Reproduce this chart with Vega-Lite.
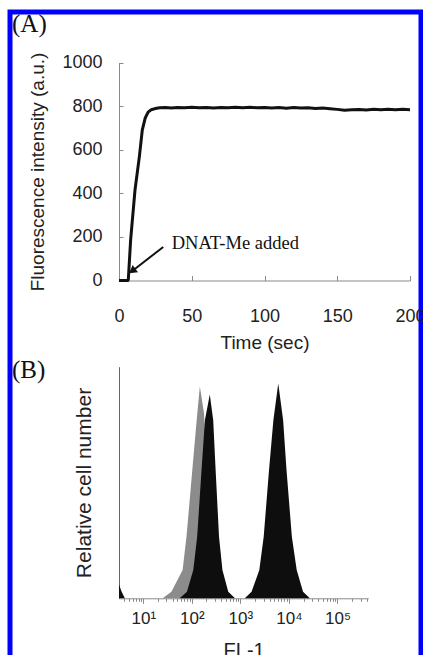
{
  "$schema": "https://vega.github.io/schema/vega-lite/v6.json",
  "autosize": {"type": "none"},
  "width": 411,
  "height": 720,
  "padding": {"left": 10, "top": 12, "right": 2, "bottom": 0},
  "background": "white",
  "title": {
    "text": "(A)", "subtitle": "(B)", "anchor": "start", "frame": "group", "orient": "top",
    "font": "Liberation Serif", "fontSize": 25, "fontWeight": "normal", "color": "#111",
    "subtitleFont": "Liberation Serif", "subtitleFontSize": 25, "subtitleColor": "#111",
    "subtitlePadding": 321, "offset": -371, "dx": 2
  },
  "config": {
    "view": {"stroke": "#0000ff", "strokeWidth": 5, "fill": "white"},
    "axis": {
      "grid": false, "labelFont": "Liberation Sans", "titleFont": "Liberation Sans",
      "titleFontWeight": "normal", "labelColor": "#222", "titleColor": "#222",
      "domainColor": "#8a8a8a", "tickColor": "#8a8a8a"
    }
  },
  "datasets": {
    "kinetics": [
      {"t": 0, "f": 0}, {"t": 3, "f": 0}, {"t": 6, "f": 0}, {"t": 6.4, "f": 4},
      {"t": 8, "f": 186}, {"t": 11, "f": 415}, {"t": 14, "f": 568}, {"t": 16, "f": 690},
      {"t": 18, "f": 745}, {"t": 20, "f": 772}, {"t": 22, "f": 783}, {"t": 25, "f": 789},
      {"t": 28, "f": 792}, {"t": 32, "f": 794}, {"t": 36, "f": 791}, {"t": 40, "f": 794},
      {"t": 45, "f": 792}, {"t": 50, "f": 795}, {"t": 55, "f": 792}, {"t": 60, "f": 794},
      {"t": 65, "f": 791}, {"t": 70, "f": 794}, {"t": 75, "f": 792}, {"t": 80, "f": 795},
      {"t": 85, "f": 793}, {"t": 90, "f": 795}, {"t": 95, "f": 792}, {"t": 100, "f": 794},
      {"t": 105, "f": 791}, {"t": 110, "f": 793}, {"t": 115, "f": 790}, {"t": 120, "f": 793},
      {"t": 125, "f": 791}, {"t": 130, "f": 792}, {"t": 135, "f": 789}, {"t": 140, "f": 791},
      {"t": 145, "f": 788}, {"t": 150, "f": 785}, {"t": 155, "f": 781}, {"t": 160, "f": 783},
      {"t": 165, "f": 784}, {"t": 170, "f": 782}, {"t": 175, "f": 785}, {"t": 180, "f": 783},
      {"t": 185, "f": 785}, {"t": 190, "f": 783}, {"t": 195, "f": 785}, {"t": 200, "f": 783}
    ],
    "arrow": [{"t": 30.4, "f": 154, "t2": 9.8, "f2": 47}],
    "arrowhead": [{"t": 9.8, "f": 47}],
    "note": [{"t": 36.2, "f": 143, "label": "DNAT-Me added"}],
    "flow": [
      {"fl": 25.1, "count": 0, "sample": "Control"},
      {"fl": 38.0, "count": 2.8, "sample": "Control"},
      {"fl": 64.6, "count": 12.2, "sample": "Control"},
      {"fl": 77.6, "count": 26.6, "sample": "Control"},
      {"fl": 102.3, "count": 55.4, "sample": "Control"},
      {"fl": 125.9, "count": 77, "sample": "Control"},
      {"fl": 146.2, "count": 91.4, "sample": "Control"},
      {"fl": 177.8, "count": 80, "sample": "Control"},
      {"fl": 208.9, "count": 55, "sample": "Control"},
      {"fl": 239.9, "count": 30, "sample": "Control"},
      {"fl": 281.8, "count": 12, "sample": "Control"},
      {"fl": 354.8, "count": 3, "sample": "Control"},
      {"fl": 501.2, "count": 0, "sample": "Control"},
      {"fl": 3.16, "count": 6, "sample": "DNAT-Me"},
      {"fl": 3.55, "count": 3, "sample": "DNAT-Me"},
      {"fl": 4.17, "count": 0, "sample": "DNAT-Me"},
      {"fl": 56.2, "count": 0, "sample": "DNAT-Me"},
      {"fl": 79.4, "count": 2.8, "sample": "DNAT-Me"},
      {"fl": 107.2, "count": 12.2, "sample": "DNAT-Me"},
      {"fl": 128.8, "count": 26.6, "sample": "DNAT-Me"},
      {"fl": 158.5, "count": 55.4, "sample": "DNAT-Me"},
      {"fl": 186.2, "count": 77, "sample": "DNAT-Me"},
      {"fl": 234.4, "count": 88, "sample": "DNAT-Me"},
      {"fl": 275.4, "count": 77, "sample": "DNAT-Me"},
      {"fl": 309.0, "count": 55.4, "sample": "DNAT-Me"},
      {"fl": 363.1, "count": 26.6, "sample": "DNAT-Me"},
      {"fl": 426.6, "count": 12.2, "sample": "DNAT-Me"},
      {"fl": 562.3, "count": 2.8, "sample": "DNAT-Me"},
      {"fl": 776.2, "count": 0, "sample": "DNAT-Me"},
      {"fl": 1230, "count": 0, "sample": "DNAT-Me"},
      {"fl": 1698, "count": 2.8, "sample": "DNAT-Me"},
      {"fl": 2455, "count": 12.2, "sample": "DNAT-Me"},
      {"fl": 3020, "count": 26.6, "sample": "DNAT-Me"},
      {"fl": 3890, "count": 55.4, "sample": "DNAT-Me"},
      {"fl": 4786, "count": 77, "sample": "DNAT-Me"},
      {"fl": 6026, "count": 92.8, "sample": "DNAT-Me"},
      {"fl": 7586, "count": 77, "sample": "DNAT-Me"},
      {"fl": 8913, "count": 55.4, "sample": "DNAT-Me"},
      {"fl": 11482, "count": 26.6, "sample": "DNAT-Me"},
      {"fl": 14454, "count": 12.2, "sample": "DNAT-Me"},
      {"fl": 19498, "count": 2.8, "sample": "DNAT-Me"},
      {"fl": 26915, "count": 0, "sample": "DNAT-Me"}
    ]
  },
  "layer": [
    {
      "layer": [
        {
          "data": {"name": "kinetics"},
          "mark": {"type": "line", "color": "#111", "strokeWidth": 3},
          "encoding": {
            "x": {
              "field": "t", "type": "quantitative",
              "scale": {"domain": [0, 200], "range": [109, 400], "nice": false},
              "axis": {
                "title": "Time (sec)", "orient": "bottom", "offset": -451.5,
                "values": [0, 50, 100, 150, 200], "tickSize": -5, "labelPadding": 32,
                "labelFontSize": 18, "titleFontSize": 19, "titlePadding": 8, "labelFlush": false
              }
            },
            "y": {
              "field": "f", "type": "quantitative",
              "scale": {"domain": [0, 1000], "range": [268.5, 50.5], "nice": false},
              "axis": {
                "title": "Fluorescence intensity (a.u.)", "orient": "left", "offset": -109,
                "values": [0, 200, 400, 600, 800, 1000], "format": "d", "tickSize": -4, "labelPadding": 21,
                "labelFontSize": 18, "titleFontSize": 19, "titlePadding": 14, "labelFlush": false
              }
            }
          }
        },
        {
          "data": {"name": "arrow"},
          "mark": {"type": "rule", "color": "#111", "strokeWidth": 2},
          "encoding": {
            "x": {"field": "t", "type": "quantitative"},
            "y": {"field": "f", "type": "quantitative"},
            "x2": {"field": "t2"},
            "y2": {"field": "f2"}
          }
        },
        {
          "data": {"name": "arrowhead"},
          "mark": {"type": "point", "shape": "triangle", "filled": true, "color": "#111", "opacity": 1, "size": 80, "angle": 233.5},
          "encoding": {
            "x": {"field": "t", "type": "quantitative"},
            "y": {"field": "f", "type": "quantitative"}
          }
        },
        {
          "data": {"name": "note"},
          "mark": {"type": "text", "font": "Liberation Serif", "fontSize": 18.5, "align": "left", "baseline": "alphabetic", "color": "#111"},
          "encoding": {
            "x": {"field": "t", "type": "quantitative"},
            "y": {"field": "f", "type": "quantitative"},
            "text": {"field": "label"}
          }
        }
      ]
    },
    {
      "data": {"name": "flow"},
      "mark": {"type": "area", "interpolate": "linear"},
      "encoding": {
        "x": {
          "field": "fl", "type": "quantitative",
          "scale": {"type": "log", "domain": [3.162, 431000], "range": [109, 358.3], "nice": false},
          "axis": {
            "title": "FL-1", "orient": "bottom", "offset": -133.7,
            "values": [4, 5, 6, 7, 8, 9, 10, 20, 30, 40, 50, 60, 70, 80, 90, 100, 200, 300, 400, 500, 600, 700, 800, 900, 1000, 2000, 3000, 4000, 5000, 6000, 7000, 8000, 9000, 10000, 20000, 30000, 40000, 50000, 60000, 70000, 80000, 90000, 100000, 200000, 300000, 400000],
            "labelExpr": "datum.value == 10 ? '10¹' : datum.value == 100 ? '10²' : datum.value == 1000 ? '10³' : datum.value == 10000 ? '10⁴' : datum.value == 100000 ? '10⁵' : ''",
            "tickSize": {"condition": {"test": "indexof([10, 100, 1000, 10000, 100000], datum.value) >= 0", "value": 5}, "value": 3},
            "labelPadding": 7, "labelFontSize": 17, "titleFontSize": 20, "titlePadding": 14,
            "labelOverlap": false, "labelFlush": false
          }
        },
        "y": {
          "field": "count", "type": "quantitative", "stack": null,
          "scale": {"domain": [0, 100], "range": [586.3, 354.7], "nice": false},
          "axis": {
            "title": "Relative cell number", "orient": "left", "offset": -109,
            "ticks": false, "labels": false, "titleFontSize": 21, "titlePadding": 25,
            "domainColor": "#666"
          }
        },
        "color": {
          "field": "sample", "type": "nominal",
          "scale": {"domain": ["Control", "DNAT-Me"], "range": ["#8c8c8c", "#0e0e0e"]},
          "legend": null
        }
      }
    }
  ],
  "resolve": {
    "scale": {"x": "independent", "y": "independent"},
    "axis": {"x": "independent", "y": "independent"}
  }
}
